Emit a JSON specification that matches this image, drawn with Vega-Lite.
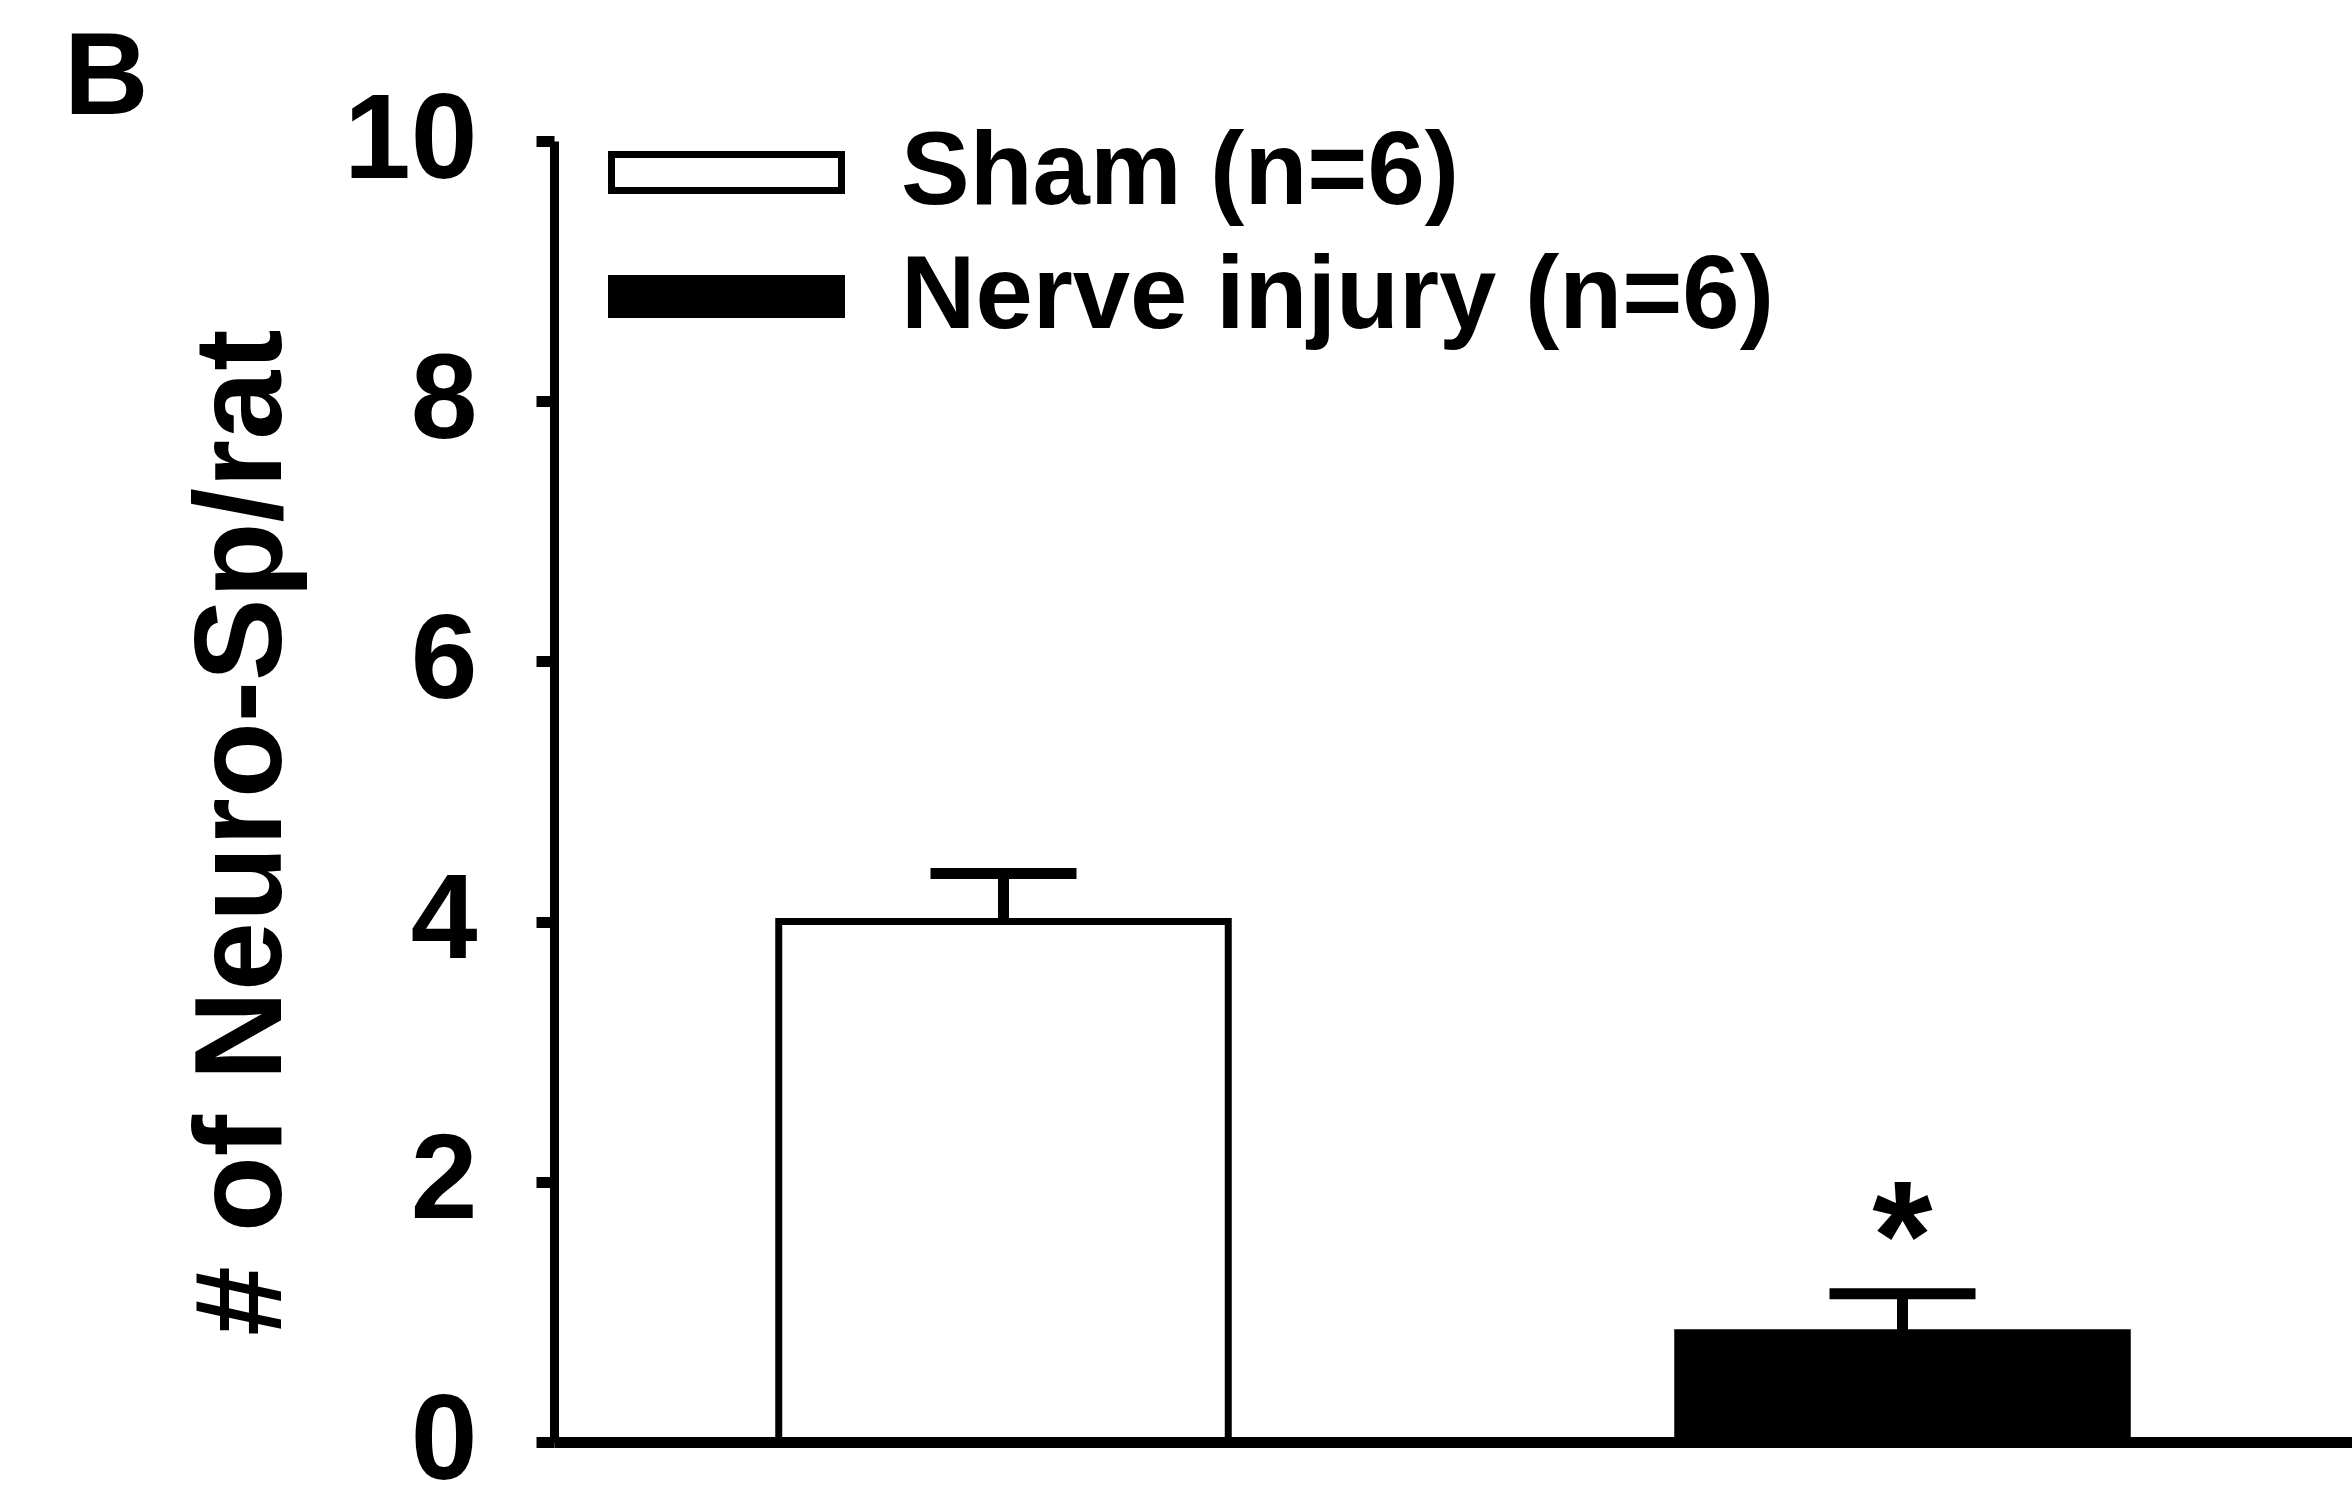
{
  "$schema": "https://vega.github.io/schema/vega-lite/v6.json",
  "width": 1798,
  "height": 1301,
  "autosize": {"type": "none"},
  "padding": {"left": 554, "top": 141, "right": 0, "bottom": 55},
  "background": "white",
  "title": {
    "text": "B",
    "anchor": "start",
    "frame": "group",
    "orient": "top",
    "font": "Liberation Sans",
    "fontWeight": "bold",
    "fontSize": 117,
    "color": "black",
    "baseline": "alphabetic",
    "offset": 0,
    "dx": -490,
    "dy": 150
  },
  "config": {
    "view": {"stroke": null},
    "font": "Liberation Sans",
    "legend": {
      "orient": "none",
      "legendX": 121,
      "legendY": -20,
      "padding": 0,
      "symbolType": "M-6.389,-1L6.389,-1L6.389,1L-6.389,1Z",
      "symbolSize": 1296,
      "symbolStrokeWidth": 7,
      "symbolStrokeColor": "black",
      "labelFont": "Liberation Sans",
      "labelFontWeight": "bold",
      "labelFontSize": 103,
      "labelColor": "black",
      "labelOffset": 123,
      "labelLimit": 3000,
      "rowPadding": 20
    }
  },
  "data": {
    "values": [
      {"group": "Sham (n=6)", "mean": 4.0, "upper": 4.37, "sig": ""},
      {"group": "Nerve injury (n=6)", "mean": 0.84, "upper": 1.14, "sig": "*"}
    ]
  },
  "encoding": {
    "x": {
      "field": "group",
      "type": "nominal",
      "sort": ["Sham (n=6)", "Nerve injury (n=6)"],
      "scale": {"paddingInner": 0.5, "paddingOuter": 0.25},
      "axis": {
        "title": null,
        "labels": false,
        "ticks": false,
        "domainColor": "black",
        "domainWidth": 11,
        "zindex": 1
      }
    }
  },
  "layer": [
    {
      "mark": {"type": "bar", "stroke": "black", "strokeWidth": 7},
      "encoding": {
        "y": {
          "field": "mean",
          "type": "quantitative",
          "scale": {"domain": [0, 10], "nice": false},
          "axis": {
            "title": "# of Neuro-Sp/rat",
            "values": [0, 2, 4, 6, 8, 10],
            "format": "d",
            "grid": false,
            "domainColor": "black",
            "domainWidth": 9,
            "tickColor": "black",
            "tickWidth": 11,
            "tickSize": 18,
            "labelFont": "Liberation Sans",
            "labelFontWeight": "bold",
            "labelFontSize": 120,
            "labelColor": "black",
            "labelPadding": 59,
            "labelLimit": 1000,
            "labelOverlap": false,
            "titleFont": "Liberation Sans",
            "titleFontWeight": "bold",
            "titleFontSize": 124,
            "titleColor": "black",
            "titleAngle": 270,
            "titleBaseline": "alphabetic",
            "titleAlign": "center",
            "titleX": -274,
            "titleY": 691,
            "titleLimit": 3000,
            "zindex": 1
          }
        },
        "fill": {
          "field": "group",
          "type": "nominal",
          "sort": ["Sham (n=6)", "Nerve injury (n=6)"],
          "scale": {"domain": ["Sham (n=6)", "Nerve injury (n=6)"], "range": ["white", "black"]},
          "legend": {"title": null}
        }
      }
    },
    {
      "mark": {"type": "rule", "color": "black", "strokeWidth": 11},
      "encoding": {
        "y": {"field": "mean", "type": "quantitative"},
        "y2": {"field": "upper"}
      }
    },
    {
      "mark": {"type": "tick", "color": "black", "thickness": 11, "size": 146, "opacity": 1},
      "encoding": {
        "y": {"field": "upper", "type": "quantitative"}
      }
    },
    {
      "mark": {"type": "text", "font": "Liberation Sans", "fontWeight": "bold", "fontSize": 155, "baseline": "alphabetic", "dy": -5, "color": "black"},
      "encoding": {
        "y": {"field": "upper", "type": "quantitative"},
        "text": {"field": "sig"}
      }
    }
  ]
}
